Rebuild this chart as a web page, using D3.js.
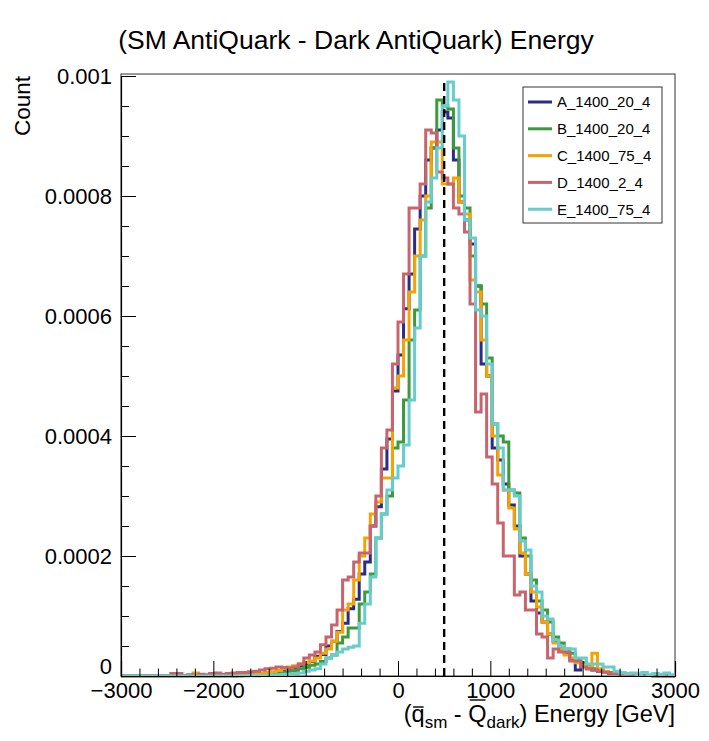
<!DOCTYPE html>
<html><head><meta charset="utf-8">
<script src="https://cdn.jsdelivr.net/npm/d3@7"></script>
<style>
body{margin:0;background:#fff}
svg{display:block}
text{font-family:"Liberation Sans",Arial,Helvetica,sans-serif;fill:#000}
</style>
</head><body>
<svg id="chart" width="709" height="741"></svg>
<script>
// ---------------- data (bin contents in units of 1e-6 per GeV) ----------------
const binStart = -3000, binWidth = 60, valueUnit = 1e-6;
const seriesNames = ["A_1400_20_4","B_1400_20_4","C_1400_75_4","D_1400_2_4","E_1400_75_4"];
const seriesColors = ["#2b2b88","#3c9a3c","#f5a300","#c8646e","#66cccc"];

const A = [
0,0,0,0,0,0,0,0,0,0,
0,0,0,0,0,0,1,0,0,1,
0,1,2,1,3,4,5,6,7,9,
12,12,17,20,24,33,36,50,58,74,
88,112,128,170,190,250,282,345,395,475,
535,612,670,745,800,860,880,910,940,930,
860,790,760,720,650,520,500,380,360,320,
285,250,200,170,125,105,90,70,58,45,
38,28,10,18,12,10,8,6,4,5,
2,3,1,2,1,1,0,1,0,0];

const B = [
0,0,0,0,0,0,0,0,0,0,
0,0,0,0,0,0,0,0,0,0,
0,0,1,1,1,2,3,4,4,6,
8,9,12,14,18,20,24,30,35,55,
65,80,80,120,140,170,230,270,300,380,
390,460,560,610,700,780,880,960,950,945,
880,800,780,700,650,620,530,420,400,390,
310,305,230,200,160,125,110,90,65,55,
45,38,28,22,18,12,10,7,6,4,
5,3,2,3,1,1,1,0,1,0];

const C = [
0,0,0,0,0,0,0,0,0,0,
0,0,0,5,0,0,0,0,0,0,
2,1,2,3,4,4,6,7,9,12,
15,17,20,22,25,30,38,45,58,73,
110,120,160,200,230,270,290,330,330,480,
500,560,640,700,760,800,890,890,820,820,
830,790,770,660,640,560,500,400,335,310,
280,245,205,170,140,115,90,70,55,45,
35,30,22,18,15,38,12,8,5,4,
3,2,2,1,2,1,0,1,0,0];

const D = [
0,0,0,0,0,0,0,0,0,4,
4,0,2,0,3,2,4,5,3,4,
5,6,6,7,8,10,12,13,15,14,
13,15,20,30,35,40,52,65,85,110,
160,165,190,205,205,250,300,380,410,520,
590,670,780,780,820,910,905,840,830,820,
780,770,740,620,440,470,365,320,255,200,
200,135,140,110,110,70,65,30,45,40,
40,25,25,15,12,10,8,6,5,4,
3,3,2,2,1,1,1,0,0,0];

const E = [
0,0,0,0,0,0,0,0,0,0,
0,0,0,0,0,0,0,0,0,0,
0,0,0,1,0,1,1,2,2,3,
3,4,5,8,10,12,20,30,35,40,
45,48,50,88,120,165,230,270,310,330,
350,385,460,580,700,790,830,880,950,990,
960,900,760,730,610,600,520,420,380,310,
310,300,225,210,150,140,100,95,60,50,
45,45,30,30,20,20,20,15,15,8,
5,4,5,3,6,2,4,3,5,2];

const seriesValues = [A,B,C,D,E];
const xTickValues = [-3000,-2000,-1000,0,1000,2000,3000];
const xTickLabels = ["\u22123000","\u22122000","\u22121000","0","1000","2000","3000"];
const yTickValues = [0,0.0002,0.0004,0.0006,0.0008,0.001];
const yTickLabels = ["0","0.0002","0.0004","0.0006","0.0008","0.001"];
const markerValue = 500;
const titleText = "(SM AntiQuark - Dark AntiQuark) Energy";
const yTitleText = "Count";
// x-axis title pieces: text, font size, baseline shift, overline height
const xTitlePieces = [
  {t:"(", fs:23.5, dy:0},
  {t:"q", fs:23.5, dy:0, bar:707},
  {t:"sm", fs:17, dy:6},
  {t:" - ", fs:23.5, dy:0},
  {t:"Q", fs:23.5, dy:0, bar:700},
  {t:"dark", fs:17, dy:6},
  {t:") Energy [GeV]", fs:23.5, dy:0}
];

// ---------------- layout ----------------
const svg = d3.select("#chart");
const L = 121, R = 675, B0 = 676;
const x = d3.scaleLinear().domain([-3000,3000]).range([L,R]);
const y = d3.scaleLinear().domain([0,0.001]).range([B0,76]);
const yTop = y(0.0010033);

// frame
svg.append("rect").attr("x",L).attr("y",yTop).attr("width",R-L).attr("height",B0-yTop)
  .attr("fill","none").attr("stroke","#333").attr("stroke-width",1);

// title
svg.append("text").attr("x",356).attr("y",49).attr("text-anchor","middle")
  .attr("font-size",26.5).text(titleText);

// histograms
const line = d3.line().curve(d3.curveStepAfter).x(d=>x(d[0])).y(d=>y(d[1]*valueUnit));
const gHist = svg.append("g");
seriesValues.forEach((vals,si)=>{
  const pts = vals.map((v,i)=>[binStart+i*binWidth, v]);
  pts.push([binStart+vals.length*binWidth, vals[vals.length-1]]);
  gHist.append("path").attr("d",line(pts)).attr("fill","none")
    .attr("stroke",seriesColors[si]).attr("stroke-width",3).attr("stroke-linejoin","miter");
});

// dashed marker
svg.append("line").attr("x1",x(markerValue)).attr("x2",x(markerValue))
  .attr("y1",y(0)).attr("y2",y(0.00099)).attr("stroke","#000").attr("stroke-width",2.4)
  .attr("stroke-dasharray","8,5");

// axes
const xMinor = d3.range(-3000,3001,200).filter(v=>v%1000!==0);
const yMinor = d3.range(0,0.0010001,0.00005).filter(v=>Math.abs(v/0.0002-Math.round(v/0.0002))>1e-6);

const gx = svg.append("g").attr("transform",`translate(0,${B0})`)
  .call(d3.axisBottom(x).tickValues(xTickValues).tickSize(-15).tickPadding(6)
        .tickFormat((d,i)=>xTickLabels[i]));
const gxm = svg.append("g").attr("transform",`translate(0,${B0})`)
  .call(d3.axisBottom(x).tickValues(xMinor).tickSize(-7.5).tickFormat(""));
const gy = svg.append("g").attr("transform",`translate(${L},0)`)
  .call(d3.axisLeft(y).tickValues(yTickValues).tickSize(-15).tickPadding(9)
        .tickFormat((d,i)=>yTickLabels[i]));
const gym = svg.append("g").attr("transform",`translate(${L},0)`)
  .call(d3.axisLeft(y).tickValues(yMinor).tickSize(-8).tickFormat(""));
[gx,gxm,gy,gym].forEach(g=>{
  g.selectAll("path.domain").attr("stroke","#000").attr("stroke-width",1.2);
  g.selectAll(".tick line").attr("stroke","#000").attr("stroke-width",1);
  g.selectAll("text").attr("font-size",22).attr("font-family","Liberation Sans, Arial, sans-serif").attr("fill","#000");
});
gxm.select("path.domain").remove(); gym.select("path.domain").remove();
gy.selectAll(".tick").filter(d=>d===0).select("text").attr("dy","-0.1em");

// y title
svg.append("text").attr("transform","translate(30,76) rotate(-90)")
  .attr("text-anchor","end").attr("font-size",22.5).text(yTitleText);

// x title: pieces laid out right-aligned at the frame's right edge
const gxt = svg.append("g");
const widths = xTitlePieces.map(p=>{
  const t = gxt.append("text").style("white-space","pre").attr("font-size",p.fs).text(p.t);
  const w = t.node().getComputedTextLength(); t.remove(); return w;
});
let cx = R - d3.sum(widths);
xTitlePieces.forEach((p,i)=>{
  gxt.append("text").style("white-space","pre").attr("x",cx).attr("y",722+p.dy)
    .attr("font-size",p.fs).text(p.t);
  if (p.bar) {
    gxt.append("line").attr("x1",cx+1.5).attr("x2",cx+widths[i]-1)
      .attr("y1",p.bar).attr("y2",p.bar).attr("stroke","#000").attr("stroke-width",1.4);
  }
  cx += widths[i];
});

// legend
const lg = svg.append("g");
lg.append("rect").attr("x",523).attr("y",87).attr("width",139).attr("height",136)
  .attr("fill","#fff").attr("stroke","#333").attr("stroke-width",1);
seriesNames.forEach((n,i)=>{
  const yy = 102 + i*26.8;
  lg.append("line").attr("x1",528).attr("x2",552).attr("y1",yy).attr("y2",yy)
    .attr("stroke",seriesColors[i]).attr("stroke-width",3);
  lg.append("text").attr("x",557).attr("y",yy).attr("dy","0.36em").attr("font-size",15).text(n);
});
</script>
</body></html>
